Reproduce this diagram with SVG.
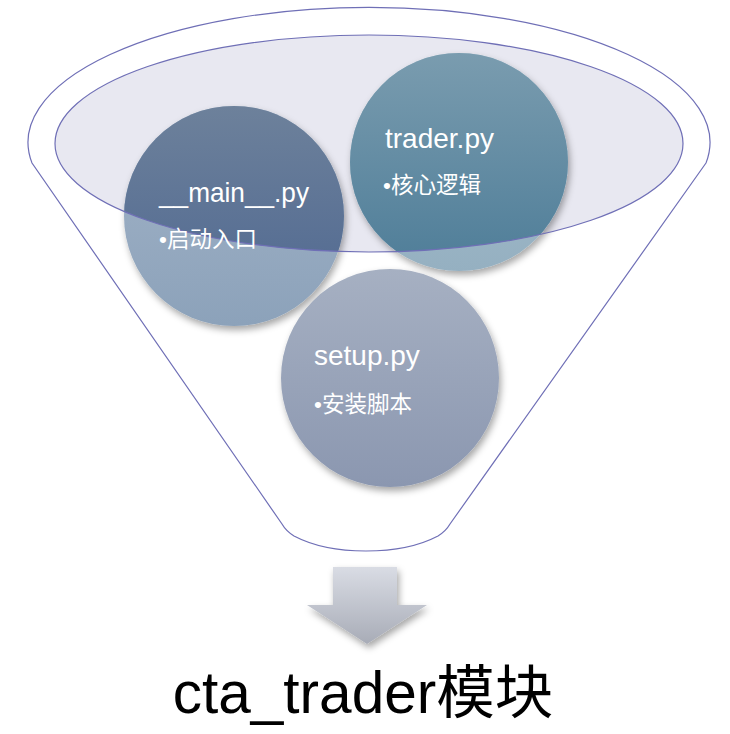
<svg xmlns="http://www.w3.org/2000/svg" width="730" height="734" viewBox="0 0 730 734">
<style>
.line{fill:none;stroke:#6f6fb6;stroke-width:1.2}
.t1{font-family:"Liberation Sans","Noto Sans CJK SC",sans-serif;font-size:28px;fill:#ffffff}
.t2{font-family:"Liberation Sans","Noto Sans CJK SC",sans-serif;font-size:22.5px;fill:#ffffff}
.title{font-family:"Liberation Sans","Noto Sans CJK SC",sans-serif;font-size:58.5px;fill:#000000}
</style>
<defs>
<linearGradient id="mainLight" x1="0" y1="0" x2="0" y2="1"><stop offset="0" stop-color="#a3b4c8"/><stop offset="1" stop-color="#8ca2ba"/></linearGradient>
<linearGradient id="mainDark" x1="0" y1="0" x2="0" y2="1"><stop offset="0" stop-color="#6d819b"/><stop offset="1" stop-color="#4d6690"/></linearGradient>
<linearGradient id="trLight" x1="0" y1="0" x2="0" y2="1"><stop offset="0" stop-color="#abc2d0"/><stop offset="1" stop-color="#95b0c1"/></linearGradient>
<linearGradient id="trDark" x1="0" y1="0" x2="0" y2="1"><stop offset="0" stop-color="#7a9caf"/><stop offset="1" stop-color="#4e7d98"/></linearGradient>
<linearGradient id="setupG" x1="0" y1="0" x2="0" y2="1"><stop offset="0" stop-color="#a6b0c2"/><stop offset="1" stop-color="#8b97b0"/></linearGradient>
<linearGradient id="arrowG" x1="0" y1="0" x2="0" y2="1"><stop offset="0" stop-color="#d9dce4"/><stop offset="1" stop-color="#a8acb7"/></linearGradient>
<clipPath id="ellClip"><ellipse cx="369" cy="143.5" rx="314" ry="108.5"/></clipPath>
<filter id="sh" x="-20%" y="-20%" width="150%" height="150%"><feDropShadow dx="2" dy="4" stdDeviation="3.5" flood-color="#000" flood-opacity="0.35"/></filter>
</defs>

<g id="funnel">
<path class="line" d="M 706 163 L 450 524 Q 446 531 438 536 C 400 556, 332 556, 294 536 Q 286 531 282 524 L 32 163 A 341 135 0 1 1 706 163 Z" style="fill:#ffffff"/>
<ellipse id="funnel-top" cx="369" cy="143.5" rx="314" ry="108.5" fill="#e8e8f1" stroke="none"/>
</g>

<g id="node-main">
<circle cx="234" cy="216" r="110" fill="url(#mainLight)" filter="url(#sh)"/>
<circle cx="234" cy="216" r="110" fill="url(#mainDark)" clip-path="url(#ellClip)"/>
</g>
<g id="node-trader">
<circle cx="459" cy="162" r="109" fill="url(#trLight)" filter="url(#sh)"/>
<circle cx="459" cy="162" r="109" fill="url(#trDark)" clip-path="url(#ellClip)"/>
</g>
<g id="node-setup">
<circle cx="390" cy="378" r="109" fill="url(#setupG)" filter="url(#sh)"/>
</g>

<ellipse class="line" cx="369" cy="143.5" rx="314" ry="108.5"/>

<g id="labels">
<text class="t1" x="159" y="202" textLength="150" lengthAdjust="spacingAndGlyphs">__main__.py</text>
<text class="t2" x="159" y="247">•启动入口</text>
<text class="t1" x="385" y="148">trader.py</text>
<text class="t2" x="383" y="193">•核心逻辑</text>
<text class="t1" x="314" y="365">setup.py</text>
<text class="t2" x="314" y="412">•安装脚本</text>
</g>

<g id="connectors">
<path d="M 333 567 L 397 567 L 397 605 L 427 605 L 367 644 L 307 605 L 333 605 Z" fill="url(#arrowG)" filter="url(#sh)"/>
</g>

<g id="node-result">
<text class="title" x="363" y="713" text-anchor="middle">cta_trader模块</text>
</g>
</svg>
